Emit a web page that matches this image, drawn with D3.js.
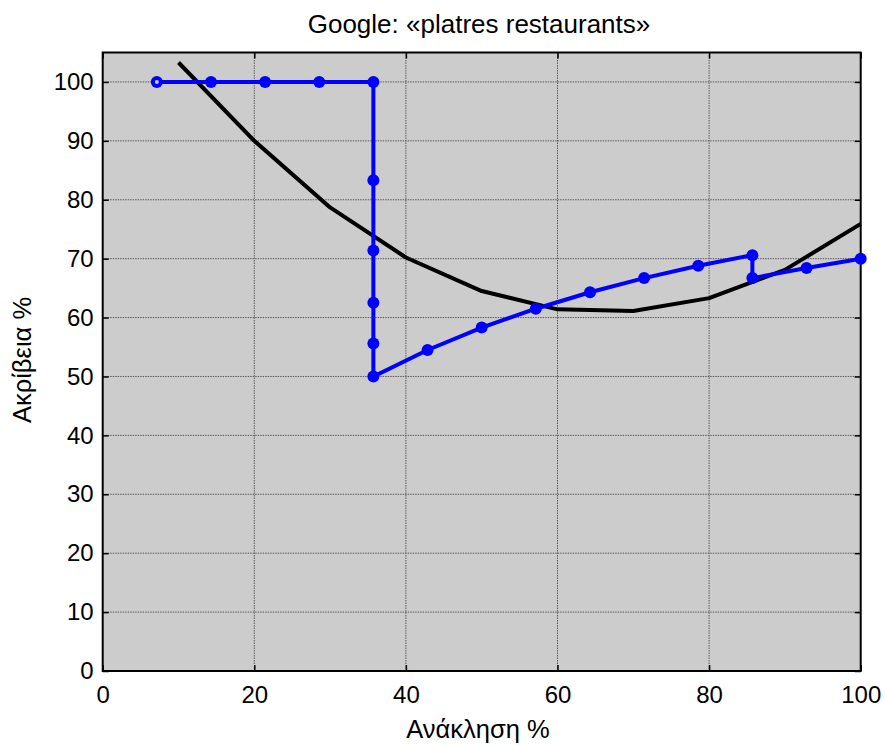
<!DOCTYPE html>
<html>
<head>
<meta charset="utf-8">
<script src="https://cdn.jsdelivr.net/npm/d3@7"></script>
<style>
  html, body { margin: 0; padding: 0; background: #fff; }
  svg { display: block; font-family: "Liberation Sans", Arial, sans-serif; }
</style>
</head>
<body>
<svg id="chart" width="885" height="745"></svg>
<script>
// Precision / recall points of the retrieved list (blue)
const recallRun = [7.14, 14.29, 21.43, 28.57, 35.71, 35.71, 35.71, 35.71, 35.71, 35.71,
                   42.86, 50.00, 57.14, 64.29, 71.43, 78.57, 85.71, 85.71, 92.86, 100];
const precisionRun = [100, 100, 100, 100, 100, 83.3, 71.4, 62.5, 55.6, 50.0,
                      54.5, 58.3, 61.5, 64.3, 66.7, 68.8, 70.6, 66.7, 68.4, 70.0];

// Reference curve (black)
const recallRef = [10, 20, 30, 40, 50, 60, 70, 80, 90, 100];
const precisionRef = [103.3, 90.0, 78.7, 70.2, 64.5, 61.4, 61.1, 63.3, 68.1, 75.9];

const xTicks = [0, 20, 40, 60, 80, 100];
const yTicks = [0, 10, 20, 30, 40, 50, 60, 70, 80, 90, 100];

const titleText = "Google: «platres restaurants»";
const xLabel = "Ανάκληση %";
const yLabel = "Ακρίβεια %";

const svg = d3.select("#chart");
const plotLeft = 102.7, plotRight = 860.7, plotTop = 52.5, plotBottom = 671;

const x = d3.scaleLinear().domain([0, 100]).range([plotLeft, plotRight]);
const y = d3.scaleLinear().domain([0, 105]).range([plotBottom, plotTop]);

// plot background
svg.append("rect")
  .attr("x", plotLeft).attr("y", plotTop)
  .attr("width", plotRight - plotLeft).attr("height", plotBottom - plotTop)
  .attr("fill", "#cccccc");

// dotted grid
const grid = svg.append("g").attr("stroke", "#404040").attr("stroke-width", 1)
  .attr("stroke-dasharray", "1.5,1").attr("opacity", 0.8);
grid.selectAll(".gx").data(xTicks.filter(d => d > 0 && d < 100)).join("line")
  .attr("x1", d => x(d)).attr("x2", d => x(d)).attr("y1", plotTop).attr("y2", plotBottom);
grid.selectAll(".gy").data(yTicks.filter(d => d > 0)).join("line")
  .attr("x1", plotLeft).attr("x2", plotRight).attr("y1", d => y(d)).attr("y2", d => y(d));

// axes with inward ticks
const tickFont = "24px";
const xAxis = svg.append("g").attr("transform", `translate(0,${plotBottom})`)
  .call(d3.axisBottom(x).tickValues(xTicks).tickSizeInner(-6).tickSizeOuter(0).tickPadding(10));
const xAxisTop = svg.append("g").attr("transform", `translate(0,${plotTop})`)
  .call(d3.axisTop(x).tickValues(xTicks).tickSizeInner(-6).tickSizeOuter(0).tickFormat(""));
const yAxis = svg.append("g").attr("transform", `translate(${plotLeft},0)`)
  .call(d3.axisLeft(y).tickValues(yTicks).tickSizeInner(-6).tickSizeOuter(0).tickPadding(9));
const yAxisRight = svg.append("g").attr("transform", `translate(${plotRight},0)`)
  .call(d3.axisRight(y).tickValues(yTicks).tickSizeInner(-6).tickSizeOuter(0).tickFormat(""));

[xAxis, xAxisTop, yAxis, yAxisRight].forEach(g => {
  g.select(".domain").remove();
  g.selectAll(".tick line").attr("stroke", "#000").attr("stroke-width", 1.5);
  g.selectAll("text").attr("font-size", tickFont).attr("fill", "#000")
    .attr("font-family", "Liberation Sans, Arial, sans-serif");
});
xAxis.selectAll("text").attr("dy", "0.9em");

// frame
svg.append("rect")
  .attr("x", plotLeft).attr("y", plotTop)
  .attr("width", plotRight - plotLeft).attr("height", plotBottom - plotTop)
  .attr("fill", "none").attr("stroke", "#000").attr("stroke-width", 2);

// reference curve
const refPts = recallRef.map((r, i) => [r, precisionRef[i]]);
svg.append("path")
  .datum(refPts)
  .attr("d", d3.line().x(d => x(d[0])).y(d => y(d[1])))
  .attr("fill", "none").attr("stroke", "#000").attr("stroke-width", 4)
  .attr("stroke-linejoin", "round");

// retrieved-list curve with markers
const runPts = recallRun.map((r, i) => [r, precisionRun[i]]);
svg.append("path")
  .datum(runPts)
  .attr("d", d3.line().x(d => x(d[0])).y(d => y(d[1])))
  .attr("fill", "none").attr("stroke", "#0000ff").attr("stroke-width", 4);

svg.append("g").selectAll("circle").data(runPts).join("circle")
  .attr("cx", d => x(d[0])).attr("cy", d => y(d[1]))
  .attr("r", 6).attr("fill", "#0000ff");

// first point drawn as an open marker
svg.append("circle")
  .attr("cx", x(runPts[0][0])).attr("cy", y(runPts[0][1]))
  .attr("r", 2).attr("fill", "#c8c8e8");

// title and axis labels
svg.append("text").attr("x", 479).attr("y", 33).attr("text-anchor", "middle")
  .attr("font-size", "26px").text(titleText);
svg.append("text").attr("x", 478).attr("y", 738).attr("text-anchor", "middle")
  .attr("font-size", "25.5px").text(xLabel);
svg.append("text").attr("transform", "translate(31,360) rotate(-90)").attr("text-anchor", "middle")
  .attr("font-size", "25.5px").text(yLabel);
</script>
</body>
</html>
